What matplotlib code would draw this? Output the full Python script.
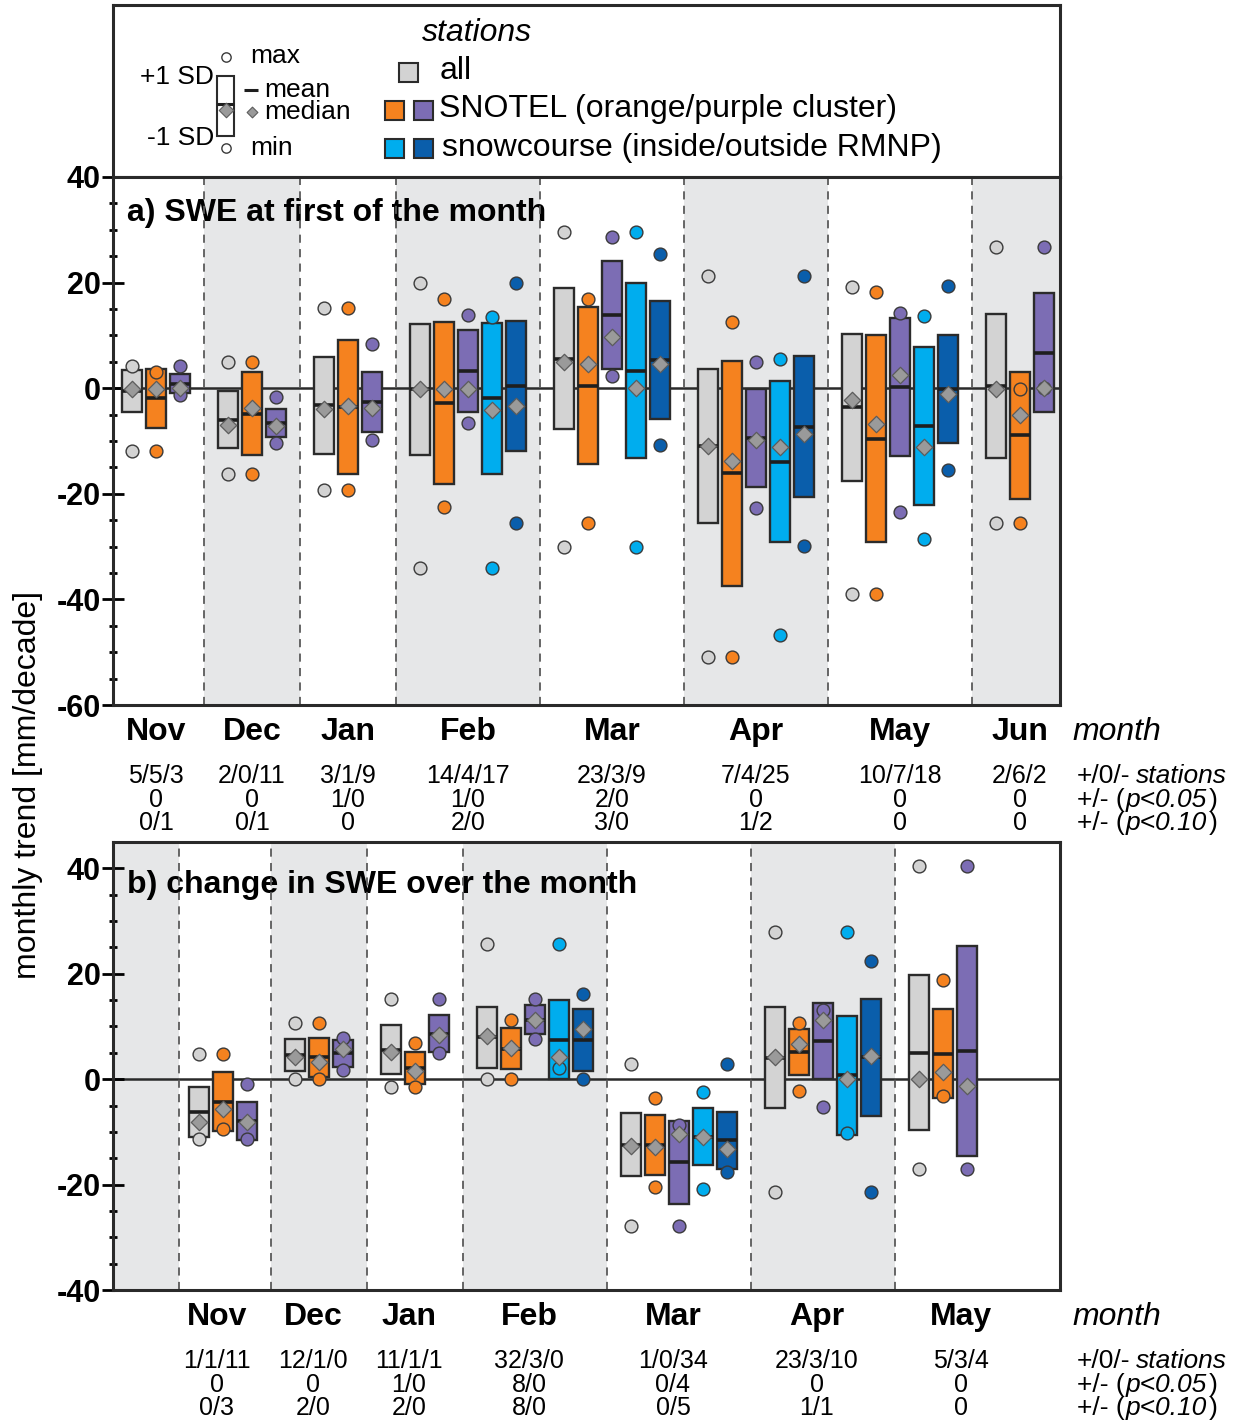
import numpy as np
import matplotlib
matplotlib.use("Agg")
import matplotlib.pyplot as plt
from matplotlib import transforms
from matplotlib.patches import Rectangle
from matplotlib.ticker import MultipleLocator, FixedLocator

plt.rcParams["font.family"] = ["Liberation Sans", "DejaVu Sans"]
plt.rcParams["axes.unicode_minus"] = False

nan = np.nan

# ---------------- panel a: SWE trend at the first of the month ----------------
months_a = ["Nov", "Dec", "Jan", "Feb", "Mar", "Apr", "May", "Jun"]
slots_a = [3, 3, 3, 5, 5, 5, 5, 3]

a_all_mean = [-0.55, -5.95, -3.2, -0.2, 5.6, -10.9, -3.6, 0.35]
a_all_sd = [4.05, 5.45, 9.2, 12.4, 13.4, 14.6, 13.9, 13.65]
a_all_median = [-0.2, -6.9, -3.9, -0.1, 4.9, -11.0, -2.2, -0.2]
a_all_max = [4.2, 4.9, 15.1, 20.0, 29.5, 21.3, 19.2, 26.7]
a_all_min = [-11.9, -16.3, -19.2, -34.1, -30.1, -51.0, -38.9, -25.6]

a_orange_mean = [-1.9, -4.8, -3.5, -2.75, 0.45, -16.15, -9.55, -8.95]
a_orange_sd = [5.6, 7.9, 12.7, 15.35, 14.85, 21.25, 19.65, 12.05]
a_orange_median = [-0.1, -3.8, -3.3, -0.1, 4.6, -13.8, -6.7, -5.1]
a_orange_max = [3.1, 5.0, 15.1, 16.9, 16.9, 12.6, 18.3, -0.1]
a_orange_min = [-11.9, -16.3, -19.2, -22.5, -25.5, -51.0, -38.9, -25.5]

a_purple_mean = [0.8, -6.65, -2.6, 3.2, 13.85, -9.45, 0.25, 6.75]
a_purple_sd = [1.8, 2.65, 5.7, 7.8, 10.15, 9.35, 13.05, 11.35]
a_purple_median = [0.1, -7.2, -3.7, -0.1, 9.7, -9.9, 2.5, 0.0]
a_purple_max = [4.2, -1.7, 8.4, 13.8, 28.6, 5.0, 14.2, 26.8]
a_purple_min = [-1.2, -10.3, -9.9, -6.5, 2.4, -22.6, -23.5, 0.0]

a_inside_mean = [nan, nan, nan, -1.9, 3.35, -13.9, -7.2, nan]
a_inside_sd = [nan, nan, nan, 14.3, 16.65, 15.3, 15.0, nan]
a_inside_median = [nan, nan, nan, -4.2, 0.0, -11.2, -11.2, nan]
a_inside_max = [nan, nan, nan, 13.5, 29.5, 5.6, 13.7, nan]
a_inside_min = [nan, nan, nan, -34.1, -30.1, -46.7, -28.5, nan]

a_outside_mean = [nan, nan, nan, 0.4, 5.35, -7.3, -0.15, nan]
a_outside_sd = [nan, nan, nan, 12.3, 11.15, 13.4, 10.25, nan]
a_outside_median = [nan, nan, nan, -3.3, 4.6, -8.7, -1.1, nan]
a_outside_max = [nan, nan, nan, 20.0, 25.4, 21.3, 19.4, nan]
a_outside_min = [nan, nan, nan, -25.6, -10.8, -29.8, -15.4, nan]

a_counts = ["5/5/3", "2/0/11", "3/1/9", "14/4/17", "23/3/9", "7/4/25", "10/7/18", "2/6/2"]
a_sig05 = ["0", "0", "1/0", "1/0", "2/0", "0", "0", "0"]
a_sig10 = ["0/1", "0/1", "0", "2/0", "3/0", "1/2", "0", "0"]

# ---------------- panel b: change in SWE over the month ----------------
months_b = ["Nov", "Dec", "Jan", "Feb", "Mar", "Apr", "May"]
slots_b = [3, 3, 3, 5, 5, 5, 5]

b_all_mean = [-6.2, 4.6, 5.6, 7.95, -12.4, 4.1, 5.05]
b_all_sd = [4.8, 3.0, 4.7, 5.75, 6.0, 9.6, 14.65]
b_all_median = [-8.1, 4.2, 5.2, 8.1, -12.7, 4.3, 0.0]
b_all_max = [4.8, 10.6, 15.2, 25.6, 2.8, 27.9, 40.4]
b_all_min = [-11.4, 0.0, -1.4, 0.0, -27.8, -21.5, -17.0]

b_orange_mean = [-4.25, 4.15, 2.15, 5.8, -12.45, 5.15, 4.85]
b_orange_sd = [5.65, 3.75, 3.05, 3.9, 5.65, 4.45, 8.45]
b_orange_median = [-5.7, 3.3, 1.6, 6.0, -12.8, 6.7, 1.3]
b_orange_max = [4.8, 10.6, 6.9, 11.2, -3.6, 10.6, 18.9]
b_orange_min = [-9.4, 0.0, -1.4, 0.0, -20.4, -2.3, -3.1]

b_purple_mean = [-7.95, 4.9, 8.65, 11.25, -15.8, 7.25, 5.35]
b_purple_sd = [3.65, 2.5, 3.45, 2.75, 7.9, 7.25, 19.95]
b_purple_median = [-8.1, 5.8, 8.4, 11.2, -10.4, 11.2, -1.2]
b_purple_max = [-1.0, 7.9, 15.2, 15.2, -8.7, 13.2, 40.4]
b_purple_min = [-11.4, 1.8, 5.0, 7.6, -27.8, -5.2, -17.0]

b_inside_mean = [nan, nan, nan, 7.5, -10.9, 0.7, nan]
b_inside_sd = [nan, nan, nan, 7.5, 5.4, 11.3, nan]
b_inside_median = [nan, nan, nan, 4.2, -11.0, 0.0, nan]
b_inside_max = [nan, nan, nan, 25.6, -2.5, 27.9, nan]
b_inside_min = [nan, nan, nan, 2.1, -20.8, -10.3, nan]

b_outside_mean = [nan, nan, nan, 7.5, -11.6, 4.15, nan]
b_outside_sd = [nan, nan, nan, 5.9, 5.4, 11.05, nan]
b_outside_median = [nan, nan, nan, 9.6, -13.3, 4.4, nan]
b_outside_max = [nan, nan, nan, 16.1, 2.8, 22.4, nan]
b_outside_min = [nan, nan, nan, 0.0, -17.7, -21.5, nan]

b_counts = ["1/1/11", "12/1/0", "11/1/1", "32/3/0", "1/0/34", "23/3/10", "5/3/4"]
b_sig05 = ["0", "0", "1/0", "8/0", "0/4", "0", "0"]
b_sig10 = ["0/3", "2/0", "2/0", "8/0", "0/5", "1/1", "0"]

# ---------------- styling ----------------
GROUPS = ["all", "orange", "purple", "inside", "outside"]
FILL = {"all": "#d3d3d3", "orange": "#f5821f", "purple": "#7c6db4",
        "inside": "#00adee", "outside": "#0a5eab"}
EDGE = "#2b2b2b"
SHADE = "#e6e7e8"
DIAMOND = "#9a9a9a"

FS_TICK = 22
FS_MONTH = 23
FS_STAT = 18
FS_SIDE = 19
FS_TITLE = 23

W, H = 1244, 1424
fig = plt.figure(figsize=(W / 100, H / 100), dpi=100)


def fy(px):
    return 1 - px / H


def axes_px(x0, y0, x1, y1):
    return fig.add_axes([x0 / W, 1 - y1 / H, (x1 - x0) / W, (y1 - y0) / H])


def style_spines(ax):
    for sp in ax.spines.values():
        sp.set_linewidth(2.2)
        sp.set_color("#2a2a2a")


def build(prefix):
    g = globals()
    return {grp: tuple(np.asarray(g[f"{prefix}_{grp}_{k}"], float)
                       for k in ("mean", "sd", "median", "max", "min"))
            for grp in GROUPS}


def draw_panel(ax, months, slots, data, xlim, ylim, lead_edge, label_shift,
               counts, sig05, sig10, y_rows, title, title_y):
    starts = []
    s = 0
    for n in slots:
        starts.append(s)
        s += n + 1
    bounds = [xlim[0]] + ([lead_edge] if lead_edge is not None else []) + \
             [st - 1 for st in starts[1:]] + [xlim[1]]
    # alternate shading, December always shaded
    first_month_idx = 1 if lead_edge is not None else 0
    for i in range(len(bounds) - 1):
        month_idx = i - first_month_idx
        if month_idx % 2 == 1:
            ax.axvspan(bounds[i], bounds[i + 1], color=SHADE, lw=0, zorder=0)
    for b in bounds[1:-1]:
        ax.axvline(b, color="#5a5a5a", lw=1.3, ls=(0, (4.5, 3.5)), zorder=2)
    ax.axhline(0, color="#2a2a2a", lw=1.8, zorder=1.5)

    for m, st in enumerate(starts):
        for gi, grp in enumerate(GROUPS):
            mean, sd, med, mx, mn = (arr[m] for arr in data[grp])
            if np.isnan(mean):
                continue
            x = st + gi
            ax.bar(x, 2 * sd, bottom=mean - sd, width=0.8, color=FILL[grp],
                   edgecolor=EDGE, linewidth=1.7, zorder=3)
            ax.hlines(mean, x - 0.4, x + 0.4, color="#1e1e1e", lw=2.6, zorder=4)
            ax.scatter([x, x], [mx, mn], s=85, c=FILL[grp], edgecolors="#3a3a3a",
                       linewidths=1.0, zorder=5)
            ax.scatter([x], [med], s=70, marker="D", c=DIAMOND,
                       edgecolors="#5c5c5c", linewidths=0.9, zorder=6)

    ax.set_xlim(*xlim)
    ax.set_ylim(*ylim)
    ax.set_xticks([])
    ax.yaxis.set_major_locator(MultipleLocator(20))
    ax.yaxis.set_minor_locator(FixedLocator(np.arange(ylim[0], 41, 5)))
    ax.tick_params(axis="y", which="major", direction="inout", length=16,
                   width=2.0, labelsize=FS_TICK, pad=1)
    ax.tick_params(axis="y", which="minor", direction="inout", length=6, width=2.0)
    for lab in ax.get_yticklabels():
        lab.set_fontweight("bold")
    style_spines(ax)

    ax.text(127 / W, fy(title_y), title, transform=fig.transFigure,
            fontsize=FS_TITLE, fontweight="bold", ha="left", va="center", zorder=1)

    trans = transforms.blended_transform_factory(ax.transData, fig.transFigure)
    for m, st in enumerate(starts):
        xc = st + (slots[m] - 1) / 2 - label_shift
        ax.text(xc, fy(y_rows[0]), months[m], transform=trans, ha="center",
                va="center", fontsize=FS_MONTH, fontweight="bold")
        for txt, yy in zip((counts[m], sig05[m], sig10[m]), y_rows[1:]):
            ax.text(xc, fy(yy), txt, transform=trans, ha="center", va="center",
                    fontsize=FS_STAT)

    fig.text(1072 / W, fy(y_rows[0]), "month", ha="left", va="center",
             fontsize=FS_MONTH, style="italic")
    t = fig.text(1077 / W, fy(y_rows[1]), "+/0/-", ha="left", va="center",
                 fontsize=FS_SIDE)
    ax.annotate("stations", xy=(1, 0), xycoords=t, xytext=(4, 0),
                textcoords="offset points", ha="left", va="bottom",
                fontsize=FS_SIDE, style="italic", annotation_clip=False)
    for yy, pv in zip(y_rows[2:], ("p<0.05", "p<0.10")):
        t1 = fig.text(1077 / W, fy(yy), "+/- (", ha="left", va="center",
                      fontsize=FS_SIDE)
        t2 = ax.annotate(pv, xy=(1, 0), xycoords=t1, xytext=(1, 0),
                         textcoords="offset points", ha="left", va="bottom",
                         fontsize=FS_SIDE, style="italic", annotation_clip=False)
        ax.annotate(")", xy=(1, 0), xycoords=t2, xytext=(1, 0),
                    textcoords="offset points", ha="left", va="bottom",
                    fontsize=FS_SIDE, annotation_clip=False)


ax_leg = axes_px(113, 5, 1060, 177)
ax_a = axes_px(113, 177, 1060, 705)
ax_b = axes_px(113, 842, 1060, 1290)

draw_panel(ax_a, months_a, slots_a, build("a"), (-0.79, 38.67), (-60, 40), None, 0.0,
           a_counts, a_sig05, a_sig10, (732, 776, 800, 823),
           "a) SWE at first of the month", 213)
draw_panel(ax_b, months_b, slots_b, build("b"), (-3.58, 35.875), (-40, 45), -0.83, 0.25,
           b_counts, b_sig05, b_sig10, (1317, 1361, 1385, 1408),
           "b) change in SWE over the month", 885)

fig.text(28 / W, fy(785), "monthly trend [mm/decade]", rotation=90,
         ha="center", va="center", fontsize=23)

# ---------------- legend box ----------------
ax_leg.set_xlim(113, 1060)
ax_leg.set_ylim(177, 5)
ax_leg.set_xticks([])
ax_leg.set_yticks([])
style_spines(ax_leg)
LFS = 19
ax_leg.text(214, 77, "+1 SD", ha="right", va="center", fontsize=LFS)
ax_leg.text(214, 138, "-1 SD", ha="right", va="center", fontsize=LFS)
ax_leg.add_patch(Rectangle((217, 76), 17, 60, facecolor="white", edgecolor=EDGE, lw=1.5))
ax_leg.hlines(104, 217, 234, color="#1e1e1e", lw=2.2)
ax_leg.scatter([225.5], [110], s=55, marker="D", c=DIAMOND, edgecolors="#5c5c5c",
               linewidths=0.8, zorder=5)
ax_leg.scatter([225.5, 225.5], [57, 148], s=45, c="white", edgecolors="#3a3a3a",
               linewidths=1.0, zorder=5)
ax_leg.text(250, 56, "max", ha="left", va="center", fontsize=LFS)
ax_leg.text(250, 148, "min", ha="left", va="center", fontsize=LFS)
ax_leg.hlines(90, 244, 258, color="#1e1e1e", lw=2.2)
ax_leg.text(264, 90, "mean", ha="left", va="center", fontsize=LFS)
ax_leg.scatter([252], [112], s=30, marker="D", c=DIAMOND, edgecolors="#5c5c5c",
               linewidths=0.8, zorder=5)
ax_leg.text(264, 112, "median", ha="left", va="center", fontsize=LFS)

LFS2 = 23
ax_leg.text(477, 33, "stations", ha="center", va="center", fontsize=LFS2, style="italic")
for (cx, cy), grp in zip([(409, 72), (395, 110), (424, 110), (395, 148), (424, 148)],
                         GROUPS):
    ax_leg.add_patch(Rectangle((cx - 9.5, cy - 9.5), 19, 19, facecolor=FILL[grp],
                               edgecolor=EDGE, lw=1.5))
ax_leg.text(440, 71, "all", ha="left", va="center", fontsize=LFS2)
ax_leg.text(439, 109, "SNOTEL (orange/purple cluster)", ha="left", va="center",
            fontsize=LFS2)
ax_leg.text(442, 148, "snowcourse (inside/outside RMNP)", ha="left", va="center",
            fontsize=LFS2)

fig.savefig("out.png", dpi=100)
